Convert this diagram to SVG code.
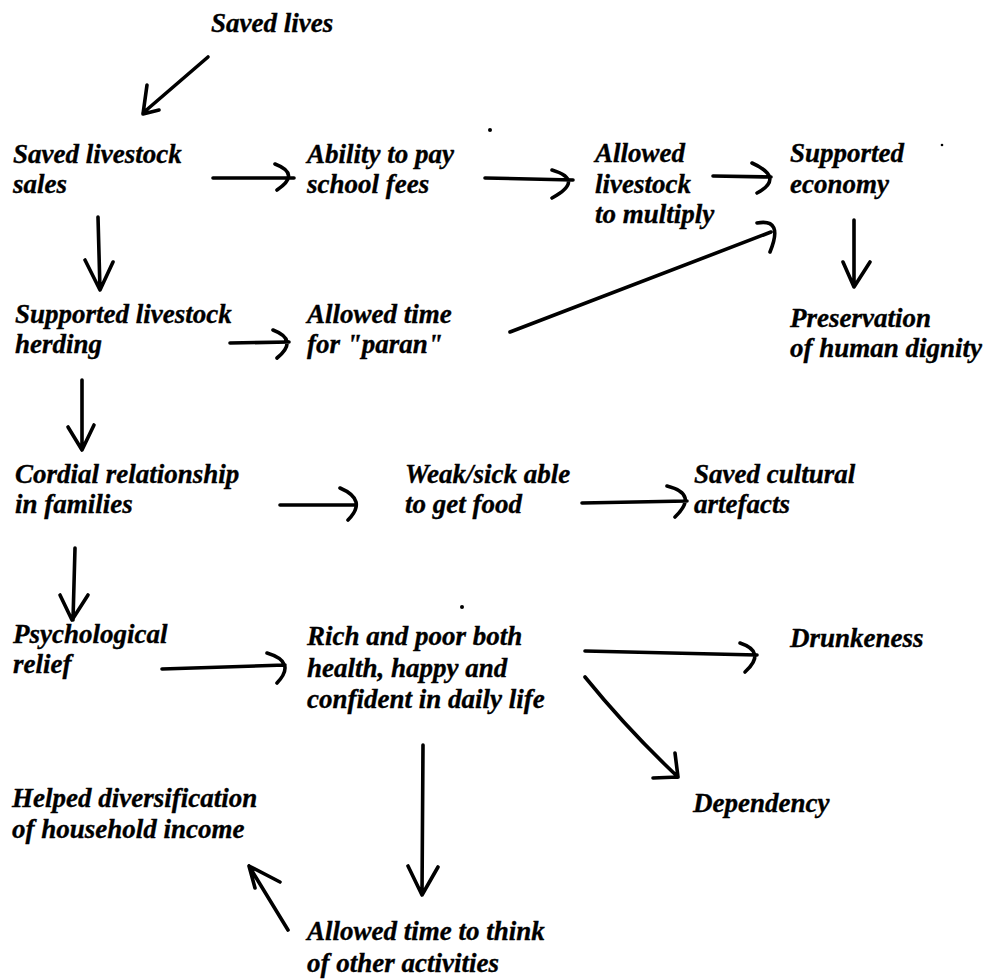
<svg xmlns="http://www.w3.org/2000/svg" width="986" height="979" viewBox="0 0 986 979">
  <style>
    text { font-family: "Liberation Serif", "Times New Roman", serif; font-size: 27px; font-weight: bold; font-style: italic; fill: #000; stroke: #000; stroke-width: 0.35; }
    .line { fill: none; stroke: #000; stroke-width: 3.6; stroke-linecap: round; stroke-linejoin: round; }
    .speck { fill: #000; }
  </style>
  <rect width="986" height="979" fill="#fff"/>

  <!-- nodes -->
  <g id="n-saved-lives"><text x="211" y="32">Saved lives</text></g>
  <g id="n-livestock-sales"><text x="13" y="163">Saved livestock</text><text x="13" y="193">sales</text></g>
  <g id="n-school-fees"><text x="307" y="163">Ability to pay</text><text x="307" y="193">school fees</text></g>
  <g id="n-multiply"><text x="595" y="162">Allowed</text><text x="595" y="193">livestock</text><text x="595" y="223">to multiply</text></g>
  <g id="n-economy"><text x="790" y="162">Supported</text><text x="790" y="193">economy</text></g>
  <g id="n-dignity"><text x="790" y="327">Preservation</text><text x="790" y="357">of human dignity</text></g>
  <g id="n-herding"><text x="15" y="323">Supported livestock</text><text x="15" y="353">herding</text></g>
  <g id="n-paran"><text x="307" y="323">Allowed time</text><text x="307" y="353">for "paran"</text></g>
  <g id="n-cordial"><text x="15" y="483">Cordial relationship</text><text x="15" y="513">in families</text></g>
  <g id="n-food"><text x="405" y="483">Weak/sick able</text><text x="405" y="513">to get food</text></g>
  <g id="n-artefacts"><text x="694" y="483">Saved cultural</text><text x="694" y="513">artefacts</text></g>
  <g id="n-relief"><text x="13" y="643">Psychological</text><text x="13" y="673">relief</text></g>
  <g id="n-confident"><text x="307" y="645">Rich and poor both</text><text x="307" y="677">health, happy and</text><text x="307" y="708">confident in daily life</text></g>
  <g id="n-drunkeness"><text x="790" y="647">Drunkeness</text></g>
  <g id="n-dependency"><text x="693" y="812">Dependency</text></g>
  <g id="n-diversification"><text x="12" y="807">Helped diversification</text><text x="12" y="838">of household income</text></g>
  <g id="n-think"><text x="307" y="940">Allowed time to think</text><text x="307" y="972">of other activities</text></g>

  <!-- hand-drawn connectors: shaft plus open head -->
  <g id="connectors" class="line">
    <path d="M208,57 L143,113 M147,85 L143,114 L159,110"/>
    <path d="M213,178 L294,178 M275,164 Q301,174 277,190"/>
    <path d="M485,178 L573,180 M552,170 Q585,180 552,198"/>
    <path d="M713,176 L771,177 M752,163 Q785,178 757,193"/>
    <path d="M510,332 L771,232 M757,223 Q784,218 770,252"/>
    <path d="M854,220 L854,287 M843,262 L854,287 L870,262"/>
    <path d="M98,217 L100,290 M85,260 L100,290 L113,262"/>
    <path d="M230,343 L289,342 M273,330 Q299,340 277,358"/>
    <path d="M82,380 L82,450 M68,427 L82,450 L94,425"/>
    <path d="M280,505 L355,505 M340,488 Q368,500 348,520"/>
    <path d="M582,503 L687,501 M667,486 Q699,494 675,517"/>
    <path d="M75,548 L73,620 M60,595 L72,620 L88,595"/>
    <path d="M162,669 L285,665 M267,653 Q297,662 277,683"/>
    <path d="M585,651 L757,655 M740,643 Q767,652 745,672"/>
    <path d="M585,677 Q628,730 678,777 M675,753 L678,777 L653,778"/>
    <path d="M423,745 L422,895 M408,866 L422,895 L438,867"/>
    <path d="M288,930 L249,866 M280,882 L249,866 L255,888"/>
  </g>

  <!-- stray ink specks -->
  <circle class="speck" cx="490" cy="130" r="2"/>
  <circle class="speck" cx="942" cy="145" r="1.3"/>
  <circle class="speck" cx="462" cy="607" r="2"/>
</svg>
